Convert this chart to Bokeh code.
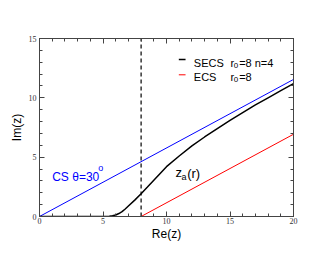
from bokeh.plotting import figure
from bokeh.models import Range1d, LinearAxis, FixedTicker, Label
from bokeh.embed import file_html
from bokeh.resources import INLINE

# ---- data ----
r0 = 8
cs_x = [0, 20]
cs_y = [0, 11.55]
ecs_x = [8, 20]
ecs_y = [0, 6.93]
secs_x = [0, 1, 2, 3, 4, 5, 5.25, 5.5, 5.75, 6, 6.25, 6.5, 6.75, 7, 7.5, 8, 8.5, 9, 10, 11, 12, 13, 14, 15, 16, 17, 18, 19, 20]
secs_y = [0, 0, 0, 0, 0, 0, 0.005, 0.02, 0.06, 0.13, 0.25, 0.41, 0.63, 0.88, 1.38, 1.92, 2.48, 3.05, 4.2, 5.1, 5.95, 6.7, 7.4, 8.1, 8.75, 9.4, 10.0, 10.6, 11.2]
x_major = [0, 5, 10, 15, 20]
y_major = [0, 5, 10, 15]
x_minor = list(range(0, 21))
y_minor = list(range(0, 16))

p = figure(frame_width=254, frame_height=178, output_backend="svg", toolbar_location=None,
           x_range=Range1d(0, 20), y_range=Range1d(0, 15),
           min_border_left=39, min_border_right=35, min_border_top=38, min_border_bottom=37,
           x_axis_location=None, y_axis_location=None)
p.grid.visible = False
p.outline_line_color = "#444444"
p.background_fill_color = "white"
p.border_fill_color = "white"

def mk_axis(ticks, minor, labels=True, title=None, standoff=3):
    ax = LinearAxis(ticker=FixedTicker(ticks=ticks, minor_ticks=minor))
    ax.major_tick_in = 5
    ax.major_tick_out = 0
    ax.minor_tick_in = 3
    ax.minor_tick_out = 0
    ax.axis_line_color = "#444444"
    ax.major_tick_line_color = "#444444"
    ax.minor_tick_line_color = "#444444"
    ax.major_label_text_font = "Liberation Serif"
    ax.major_label_text_font_size = "8px"
    ax.major_label_text_color = "#333333"
    ax.major_label_standoff = standoff
    if title:
        ax.axis_label = title
        ax.axis_label_text_font = "Liberation Sans"
        ax.axis_label_text_font_size = "12px"
        ax.axis_label_text_font_style = "normal"
        ax.axis_label_text_color = "black"
        ax.axis_label_standoff = 2
    if not labels:
        ax.major_label_text_alpha = 0
        ax.major_label_text_font_size = "1px"
    return ax

bx = mk_axis(x_major, x_minor, title="Re(z)", standoff=1)
bx.axis_label_standoff = 0
p.add_layout(bx, "below")
p.add_layout(mk_axis(y_major, y_minor, title="Im(z)"), "left")
p.add_layout(mk_axis(x_major, x_minor, False), "above")
p.add_layout(mk_axis(y_major, y_minor, False), "right")

p.line(cs_x, cs_y, line_color="#0000ff", line_width=1)
p.line(ecs_x, ecs_y, line_color="#ff0000", line_width=1)
p.line(secs_x, secs_y, line_color="black", line_width=1.5)
p.line([r0, r0], [0, 15], line_color="black", line_width=1.2, line_dash="4 3")

font = "Liberation Sans"
def lab(x, y, t, size, color="black", align="left", base="alphabetic"):
    p.add_layout(Label(x=x, y=y, text=t, text_font=font, text_font_size=size,
                       text_color=color, text_align=align, text_baseline=base))

# legend
p.line([10.97, 11.5], [13.23, 13.23], line_color="black", line_width=1.5)
p.line([10.97, 11.5], [11.94, 11.94], line_color="#ff0000", line_width=1)
lab(12.15, 12.95, "SECS", "11px")
lab(15.04, 12.95, "r", "11px")
lab(15.3, 12.72, "0", "8px")
lab(15.72, 12.95, "=8 n=4", "11px")
lab(12.15, 11.74, "ECS", "11px")
lab(15.04, 11.74, "r", "11px")
lab(15.3, 11.51, "0", "8px")
lab(15.72, 11.74, "=8", "11px")

# CS label
lab(1.0, 3.37, "CS \u03b8=30", "12px", color="#0000ff")
lab(4.62, 4.1, "o", "9px", color="#0000ff")

# z_a(r)
lab(10.71, 3.72, "z", "13px")
lab(11.18, 3.35, "a", "9px")
lab(11.63, 3.66, "(r)", "13px")

open("out.html", "w").write(file_html(p, INLINE))
